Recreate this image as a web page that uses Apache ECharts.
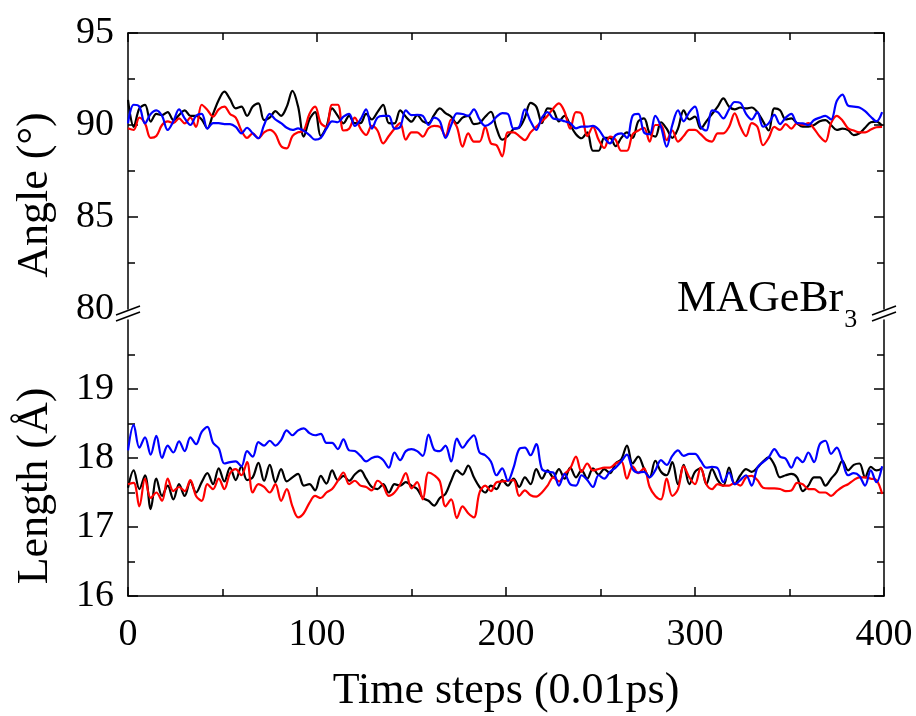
<!DOCTYPE html>
<html><head><meta charset="utf-8">
<script src="https://cdn.jsdelivr.net/npm/echarts@6/dist/echarts.min.js"></script>
<style>html,body{margin:0;padding:0;background:#fff}#c{width:916px;height:716px}</style>
</head><body><div id="c"></div>
<script>
const STEP = 3;

// Angle (degrees) traces
const angleBlack = [
 91.36, 89.9, 90.9, 91.09, 90.18, 90.6, 90.54, 90.7, 90.27, 90.54,
 90.8, 90.5, 90.5, 90.3, 89.82, 90.6, 91.36, 91.81, 91.4, 90.9,
 91.0, 90.5, 91.0, 91.18, 90.27, 90.4, 90.75, 90.5, 91.0, 91.85,
 91.0, 89.37, 90.3, 90.7, 89.4, 89.9, 90.9, 90.5, 90.09, 90.5,
 90.1, 90.1, 90.6, 90.3, 90.7, 91.09, 90.1, 90.09, 90.8, 90.45,
 90.18, 90.54, 90.2, 90.1, 90.55, 90.9, 90.65, 90.45, 90.09, 90.4,
 90.5, 90.05, 90.1, 90.45, 90.72, 89.82, 89.2, 89.4, 89.78, 89.85,
 90.4, 91.2, 91.0, 90.1, 90.9, 90.8, 90.2, 90.5, 90.0, 89.5,
 89.28, 89.6, 88.6, 88.6, 89.3, 89.3, 88.85, 89.3, 89.6, 89.3,
 90.2, 90.36, 89.55, 89.37, 90.15, 89.8, 89.3, 89.8, 90.8, 90.3,
 90.45, 89.8, 90.2, 90.6, 91.0, 91.45, 91.0, 90.85, 90.95, 90.9,
 90.95, 90.7, 90.2, 89.7, 90.9, 90.8, 90.3, 90.36, 90.09, 89.91,
 89.91, 90.0, 90.2, 90.27, 90.0, 89.73, 89.8, 89.72, 89.45, 89.55,
 89.85, 90.15, 90.18, 89.95
];
const angleRed = [
 89.82, 89.73, 90.4, 90.09, 89.3, 89.4, 90.0, 90.2, 90.1, 90.36,
 90.09, 90.4, 89.9, 91.1, 90.82, 90.45, 90.85, 91.0, 90.6, 90.4,
 89.7, 89.3, 89.55, 89.28, 89.6, 89.73, 89.5, 88.85, 88.73, 89.4,
 89.6, 89.7, 90.6, 91.0, 90.1, 89.9, 91.1, 91.1, 89.7, 89.8,
 90.4, 89.8, 89.46, 89.95, 89.7, 89.0, 89.4, 89.8, 90.1, 89.2,
 89.6, 89.6, 89.37, 89.82, 89.95, 89.9, 89.4, 90.3, 89.9, 88.82,
 89.55, 89.1, 89.1, 89.9, 89.0, 88.9, 88.3, 89.6, 89.6, 89.4,
 89.18, 89.6, 89.9, 90.2, 90.5, 90.9, 91.18, 90.72, 89.8, 90.7,
 90.6, 89.4, 89.9, 89.2, 88.75, 89.37, 89.2, 88.6, 88.6, 89.5,
 89.7, 89.85, 89.1, 90.0, 90.0, 89.18, 89.7, 89.1, 89.4, 89.73,
 89.73, 89.5, 89.2, 89.1, 89.55, 89.55, 89.9, 90.63, 89.9, 89.4,
 90.1, 89.9, 88.9, 89.3, 89.9, 89.73, 90.05, 89.8, 90.1, 90.0,
 90.1, 89.8, 89.37, 89.1, 90.1, 90.5, 90.25, 89.82, 89.7, 89.6,
 89.6, 89.75, 89.88, 89.9
];
const angleBlue = [
 90.09, 91.1, 91.0, 90.09, 90.6, 90.8, 90.5, 89.73, 90.2, 90.85,
 90.36, 90.0, 90.5, 90.6, 89.8, 90.1, 90.1, 90.05, 90.05, 89.9,
 89.55, 89.85, 89.55, 89.28, 90.0, 90.6, 90.3, 90.1, 89.85, 89.73,
 89.82, 89.68, 89.45, 89.2, 89.3, 89.8, 90.2, 90.15, 90.45, 90.6,
 89.95, 90.3, 90.85, 89.8, 90.4, 90.5, 90.5, 89.8, 89.9, 90.8,
 90.54, 90.55, 90.5, 90.0, 90.4, 90.2, 89.3, 90.0, 90.63, 90.6,
 90.5, 90.85, 90.3, 89.95, 90.1, 90.45, 90.65, 90.6, 89.8, 89.9,
 90.85, 90.2, 89.73, 90.4, 90.7, 90.35, 90.3, 90.2, 90.1, 89.82,
 89.91, 89.91, 89.95, 89.75, 89.3, 89.0, 89.45, 89.55, 89.3, 90.5,
 90.6, 89.6, 89.5, 90.5, 89.9, 88.82, 90.0, 90.8, 90.2, 90.7,
 91.0, 89.9, 89.7, 90.8, 90.7, 90.36, 90.85, 91.25, 91.2, 90.6,
 90.3, 90.7, 89.91, 90.1, 90.55, 90.05, 90.4, 90.6, 90.1, 90.09,
 90.0, 90.27, 90.4, 90.5, 90.3, 91.3, 91.65, 91.05, 91.0, 90.95,
 90.75, 90.45, 90.2, 90.7
];

// Length (Angstrom) traces
const lengthBlack = [
 17.57, 17.82, 17.55, 17.75, 17.26, 17.7, 17.45, 17.6, 17.4, 17.62,
 17.45, 17.66, 17.5, 17.65, 17.78, 17.62, 17.85, 17.66, 17.86, 17.68,
 17.88, 17.68, 17.72, 17.93, 17.67, 17.9, 17.65, 17.84, 17.66, 17.72,
 17.77, 17.6, 17.62, 17.53, 17.74, 17.63, 17.82, 17.68, 17.74, 17.67,
 17.76, 17.82, 17.7, 17.58, 17.55, 17.62, 17.5, 17.62, 17.6, 17.65,
 17.6, 17.55, 17.42, 17.38, 17.31, 17.42, 17.48, 17.67, 17.82, 17.76,
 17.89, 17.72, 17.58, 17.5, 17.6, 17.55, 17.68, 17.6, 17.7, 17.58,
 17.72, 17.62, 17.84, 17.7, 17.82, 17.72, 17.84, 17.7, 17.86, 17.72,
 17.82, 17.7, 17.85, 17.76, 17.84, 17.78, 17.92, 17.98, 18.18, 17.92,
 18.02, 17.85, 17.72, 17.96, 17.8, 17.75, 17.94, 17.62, 17.9, 17.62,
 17.8, 17.85, 17.62, 17.84, 17.68, 17.6, 17.86, 17.62, 17.75, 17.84,
 17.8, 17.86, 17.95, 18.01, 17.9, 17.72, 17.75, 17.77, 17.72, 17.52,
 17.6, 17.72, 17.72, 17.6, 17.7, 17.8, 17.96, 17.82, 17.9, 17.92,
 17.72, 17.87, 17.82, 17.85
];
const lengthRed = [
 17.62, 17.64, 17.3, 17.7, 17.42, 17.5, 17.38, 17.7, 17.52, 17.58,
 17.52, 17.68, 17.45, 17.38, 17.62, 17.55, 17.7, 17.55, 17.78, 17.84,
 17.75, 17.94, 17.5, 17.62, 17.58, 17.5, 17.62, 17.38, 17.55, 17.3,
 17.14, 17.2, 17.35, 17.45, 17.42, 17.5, 17.55, 17.67, 17.79, 17.62,
 17.67, 17.6, 17.58, 17.53, 17.67, 17.6, 17.45, 17.5, 17.62, 17.78,
 17.56, 17.65, 17.4, 17.79, 17.75, 17.66, 17.3, 17.4, 17.13, 17.3,
 17.2, 17.14, 17.5, 17.6, 17.52, 17.65, 17.66, 17.67, 17.68, 17.45,
 17.53, 17.46, 17.44, 17.5, 17.6, 17.72, 17.66, 17.77, 17.85, 18.02,
 17.8, 17.92, 17.82, 17.84, 17.86, 17.86, 17.92, 17.95, 17.7, 17.88,
 17.78, 17.85, 17.58, 17.45, 17.4, 17.7, 17.45, 17.55, 17.88, 17.72,
 17.62, 17.86, 17.62, 17.55, 17.62, 17.6, 17.6, 17.64, 17.6, 17.72,
 17.74, 17.68, 17.57, 17.56, 17.56, 17.55, 17.52, 17.53, 17.64, 17.62,
 17.55, 17.55, 17.5, 17.5, 17.45, 17.52, 17.58, 17.62, 17.68, 17.72,
 17.72, 17.7, 17.68, 17.48
];
const lengthBlue = [
 18.11, 18.48, 18.15, 18.3, 18.05, 18.32, 18.0, 18.18, 18.08, 18.24,
 18.1, 18.3, 18.2, 18.38, 18.45, 18.22, 18.14, 17.92, 17.94, 17.95,
 17.88, 18.1, 18.02, 18.23, 18.18, 18.25, 18.18, 18.26, 18.4, 18.33,
 18.4, 18.43, 18.36, 18.33, 18.35, 18.22, 18.22, 18.13, 18.27, 18.11,
 18.1, 18.03, 17.95, 18.0, 18.02, 17.97, 17.86, 18.08, 17.97, 18.1,
 18.13, 18.1, 18.03, 18.34, 18.12, 18.1, 18.18, 17.95, 18.28, 18.15,
 18.25, 18.33, 18.08, 18.04, 17.95, 17.75, 17.85, 17.67, 17.86, 18.13,
 18.15, 18.04, 18.2, 17.84, 17.8, 17.79, 17.6, 17.77, 17.62, 17.6,
 17.75, 17.68, 17.58, 17.75, 17.7, 17.8, 17.86, 17.95, 18.05, 17.84,
 17.79, 17.8, 17.72, 17.82, 17.97, 17.9, 18.03, 18.11, 18.03, 18.06,
 18.06, 17.96, 17.86, 17.87, 17.85, 17.65, 17.79, 17.62, 17.68, 17.75,
 17.6, 17.86, 17.94, 18.01, 18.13, 18.02, 17.99, 17.86, 18.01, 17.94,
 18.08, 17.94, 18.2, 18.25, 18.06, 18.15, 17.96, 17.75, 17.78, 17.74,
 17.6, 17.82, 17.65, 17.88
];

// axis ticks / labels
const timeRange = [0, 400];
const angleRange = [80, 95];
const angleLabels = [80, 85, 90, 95];
const angleTicks = [85, 90, 95];
const lengthRange = [16, 20];
const lengthLabels = [16, 17, 18, 19];
const lengthTicks = [16, 17, 18, 19];
const xLabelTitle = 'Time steps (0.01ps)';
const angleTitle = 'Angle (°)';
const lengthTitle = 'Length (Å)';

const FONT = 'Liberation Serif';
const AX = { color: '#000', width: 1.5 };

function pairs(arr) { return arr.map((v, i) => [i * STEP, v]); }

function xAx(gridIndex, position, labels) {
  return {
    type: 'value', gridIndex, position, min: timeRange[0], max: timeRange[1], interval: 100,
    axisLine: { show: true, onZero: false, lineStyle: AX },
    axisTick: { show: true, inside: true, length: 9, lineStyle: AX },
    minorTick: { show: true, splitNumber: 2, length: 7, lineStyle: AX },
    splitLine: { show: false }, minorSplitLine: { show: false },
    axisLabel: labels ? { show: true, color: '#000', fontFamily: FONT, fontSize: 38, margin: 20 } : { show: false },
    name: labels ? xLabelTitle : '', nameLocation: 'middle', nameGap: 73,
    nameTextStyle: { color: '#000', fontFamily: FONT, fontSize: 44 }
  };
}
function yAx(gridIndex, position, range, interval, ticks, labels) {
  return {
    type: 'value', gridIndex, position, min: range[0], max: range[1], interval,
    axisLine: { show: true, onZero: false, lineStyle: AX },
    axisTick: { show: true, inside: true, length: 10, lineStyle: AX, customValues: ticks },
    minorTick: { show: true, splitNumber: 2, length: 7, lineStyle: AX },
    splitLine: { show: false }, minorSplitLine: { show: false },
    axisLabel: labels ? { show: true, color: '#000', fontFamily: FONT, fontSize: 38, margin: 14, customValues: labels } : { show: false }
  };
}
function line(name, data, color, xi, yi) {
  return {
    name, type: 'line', data: pairs(data), xAxisIndex: xi, yAxisIndex: yi,
    showSymbol: false, smooth: 0.35, clip: true,
    lineStyle: { color, width: 2.2 }, itemStyle: { color }, z: 3
  };
}

const chart = echarts.init(document.getElementById('c'), null, { renderer: 'canvas' });
const brk = (x, y) => [
  { type: 'line', shape: { x1: x - 12, y1: y + 4, x2: x + 12, y2: y - 5 }, style: { stroke: '#000', lineWidth: 1.5 }, z: 10 },
  { type: 'line', shape: { x1: x - 12, y1: y + 10, x2: x + 12, y2: y + 1 }, style: { stroke: '#000', lineWidth: 1.5 }, z: 10 }
];
chart.setOption({
  animation: false,
  backgroundColor: '#fff',
  title: {
    text: '{a|MAGeBr}{s|3}', left: 672, top: 272,
    textStyle: {
      fontWeight: 'normal',
      rich: {
        a: { fontFamily: FONT, fontSize: 44, fontWeight: 'normal', color: '#000', verticalAlign: 'top' },
        s: { fontFamily: FONT, fontSize: 26, fontWeight: 'normal', color: '#000', verticalAlign: 'bottom', padding: [30, 0, 0, 1] }
      }
    }
  },
  grid: [
    { left: 128, right: 32, top: 33, height: 276 },
    { left: 128, right: 32, top: 320, height: 276 }
  ],
  xAxis: [xAx(0, 'top', false), xAx(1, 'bottom', true)],
  yAxis: [
    yAx(0, 'left', angleRange, 5, angleTicks, angleLabels),
    yAx(0, 'right', angleRange, 5, angleTicks, null),
    yAx(1, 'left', lengthRange, 1, lengthTicks, lengthLabels),
    yAx(1, 'right', lengthRange, 1, lengthTicks, null)
  ],
  graphic: [
    { type: 'text', x: 35, y: 195, rotation: Math.PI / 2,
      style: { text: angleTitle, fill: '#000', fontFamily: FONT, fontSize: 44, textAlign: 'center', textVerticalAlign: 'middle', align: 'center', verticalAlign: 'middle' } },
    { type: 'text', x: 35, y: 486, rotation: Math.PI / 2,
      style: { text: lengthTitle, fill: '#000', fontFamily: FONT, fontSize: 44, textAlign: 'center', textVerticalAlign: 'middle', align: 'center', verticalAlign: 'middle' } },
    ...brk(128, 311),
    ...brk(884, 311)
  ],
  series: [
    line('black', angleBlack, '#000000', 0, 0),
    line('red', angleRed, '#ff0000', 0, 0),
    line('blue', angleBlue, '#0000ff', 0, 0),
    line('black', lengthBlack, '#000000', 1, 2),
    line('red', lengthRed, '#ff0000', 1, 2),
    line('blue', lengthBlue, '#0000ff', 1, 2)
  ]
});
</script></body></html>
